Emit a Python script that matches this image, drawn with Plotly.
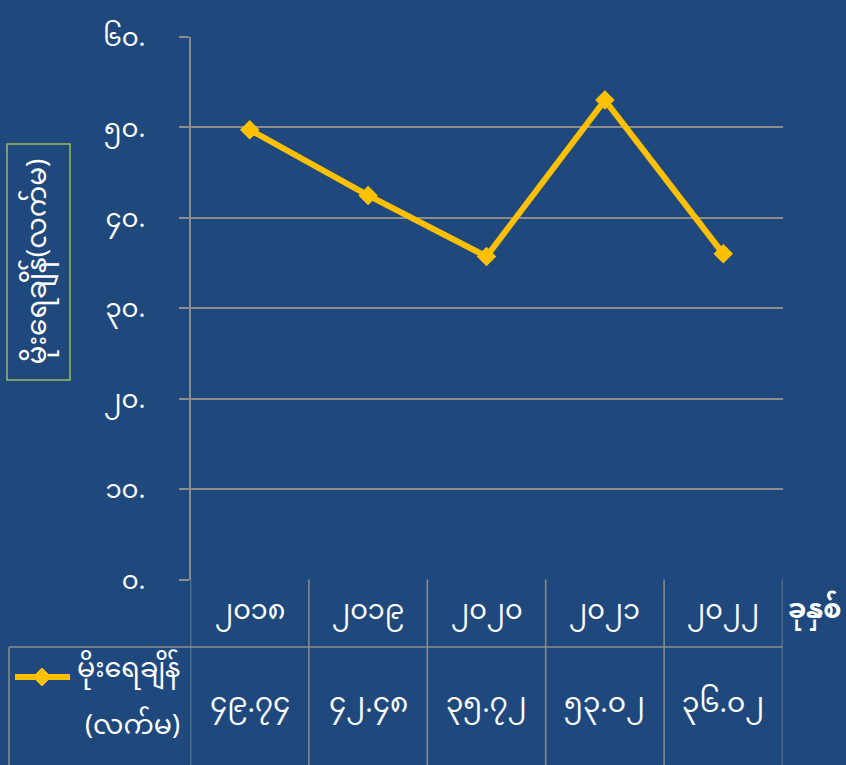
import plotly.graph_objects as go

# ---- data ----
years = ["၂၀၁၈", "၂၀၁၉", "၂၀၂၀", "၂၀၂၁", "၂၀၂၂"]
rainfall = [49.74, 42.48, 35.72, 53.02, 36.02]
y_tick_vals = [0, 10, 20, 30, 40, 50, 60]
y_tick_text = ["၀.", "၁၀.", "၂၀.", "၃၀.", "၄၀.", "၅၀.", "၆၀."]
series_name = "မိုးရေချိန်"
series_unit = "(လက်မ)"
y_title = "မိုးရေချိန်(လက်မ)"
x_title = "ခုနှစ်"

BG = "#1F497D"
GRID = "#8C8C8C"
GOLD = "#FFC000"
W, H = 846, 765
FONT = "Noto Sans Myanmar, Padauk, Myanmar Text, Noto Sans, sans-serif"
MY_DIGITS = "၀၁၂၃၄၅၆၇၈၉"


def to_my(v):
    s = f"{v:.2f}"
    return "".join(MY_DIGITS[int(c)] if c.isdigit() else c for c in s)


def px(xp):
    return xp / W


def py(yp):
    return (H - yp) / H


x_idx = list(range(len(years)))

fig = go.Figure()
fig.add_trace(go.Scatter(
    x=x_idx, y=rainfall, mode="lines+markers",
    line=dict(color=GOLD, width=6),
    marker=dict(symbol="diamond", size=15, color=GOLD),
    showlegend=False, hoverinfo="skip",
))

y_bottom, y_top = 579.5, 37
x_left, x_right = 190.5, 782.5

fig.update_layout(
    width=W, height=H,
    margin=dict(l=0, r=0, t=0, b=0, autoexpand=False),
    paper_bgcolor=BG, plot_bgcolor=BG,
    font=dict(family=FONT, color="white", size=26),
    hovermode=False,
    xaxis=dict(
        domain=[px(x_left), px(x_right)],
        range=[-0.5, len(years) - 0.5],
        showgrid=False, zeroline=False, showticklabels=False,
        showline=False, fixedrange=True, automargin=False,
    ),
    yaxis=dict(
        domain=[py(y_bottom), py(y_top)],
        range=[0, 60],
        tickvals=y_tick_vals, ticktext=y_tick_text,
        showgrid=True, gridcolor=GRID, gridwidth=1.5,
        zeroline=False,
        showline=True, linecolor=GRID, linewidth=1.5,
        ticks="outside", ticklen=10, tickcolor=GRID, tickwidth=1.5,
        ticklabelstandoff=28,
        tickfont=dict(size=26, color="white", family=FONT),
        fixedrange=True, automargin=False,
    ),
)

shapes = []
# table vertical lines at category boundaries
for b in [i - 0.5 for i in range(len(years) + 1)]:
    shapes.append(dict(type="line", xref="x", yref="paper",
                       x0=b, x1=b, y0=0, y1=py(y_bottom),
                       line=dict(color=GRID, width=1.5)))
# row separator
shapes.append(dict(type="line", xref="paper", yref="paper",
                   x0=px(9), x1=px(x_right), y0=py(647), y1=py(647),
                   line=dict(color=GRID, width=1.5)))
# left border of legend cell
shapes.append(dict(type="line", xref="paper", yref="paper",
                   x0=px(9), x1=px(9), y0=0, y1=py(647),
                   line=dict(color=GRID, width=1.5)))
# legend key: line + diamond
ky = 677
shapes.append(dict(type="line", xref="paper", yref="paper",
                   x0=px(15), x1=px(70), y0=py(ky), y1=py(ky),
                   line=dict(color=GOLD, width=6)))
cx, r = 42, 9
path = (f"M{px(cx - r)},{py(ky)} L{px(cx)},{py(ky - r)} "
        f"L{px(cx + r)},{py(ky)} L{px(cx)},{py(ky + r)} Z")
shapes.append(dict(type="path", xref="paper", yref="paper", path=path,
                   fillcolor=GOLD, line=dict(color=GOLD, width=1)))
# y-title frame
shapes.append(dict(type="rect", xref="paper", yref="paper",
                   x0=px(7), x1=px(70), y0=py(380), y1=py(144),
                   line=dict(color="#9BBB59", width=1.5)))
fig.update_layout(shapes=shapes)

ann = []
for i, (yr, v) in enumerate(zip(years, rainfall)):
    ann.append(dict(x=i, xref="x", y=py(612), yref="paper", text=yr,
                    showarrow=False, font=dict(size=27, color="white"),
                    xanchor="center", yanchor="middle"))
    ann.append(dict(x=i, xref="x", y=py(705), yref="paper", text=to_my(v),
                    showarrow=False, font=dict(size=28, color="white"),
                    xanchor="center", yanchor="middle"))
# legend text
ann.append(dict(x=px(182), y=py(670), xref="paper", yref="paper",
                text=series_name, showarrow=False, xanchor="right",
                yanchor="middle", font=dict(size=27, color="white")))
ann.append(dict(x=px(182), y=py(727), xref="paper", yref="paper",
                text=series_unit, showarrow=False, xanchor="right",
                yanchor="middle", font=dict(size=27, color="white")))
# x title
ann.append(dict(x=px(786), y=py(612), xref="paper", yref="paper",
                text=f"<b>{x_title}</b>", showarrow=False, xanchor="left",
                yanchor="middle", font=dict(size=26, color="white")))
# y title
ann.append(dict(x=px(38.5), y=py(262), xref="paper", yref="paper",
                text=y_title, showarrow=False, textangle=-90,
                xanchor="center", yanchor="middle",
                font=dict(size=28, color="white")))
fig.update_layout(annotations=ann)

fig.write_html(
    "out.html",
    config={"displayModeBar": False},
    post_script="document.body.style.margin='0';document.body.style.padding='0';",
)
